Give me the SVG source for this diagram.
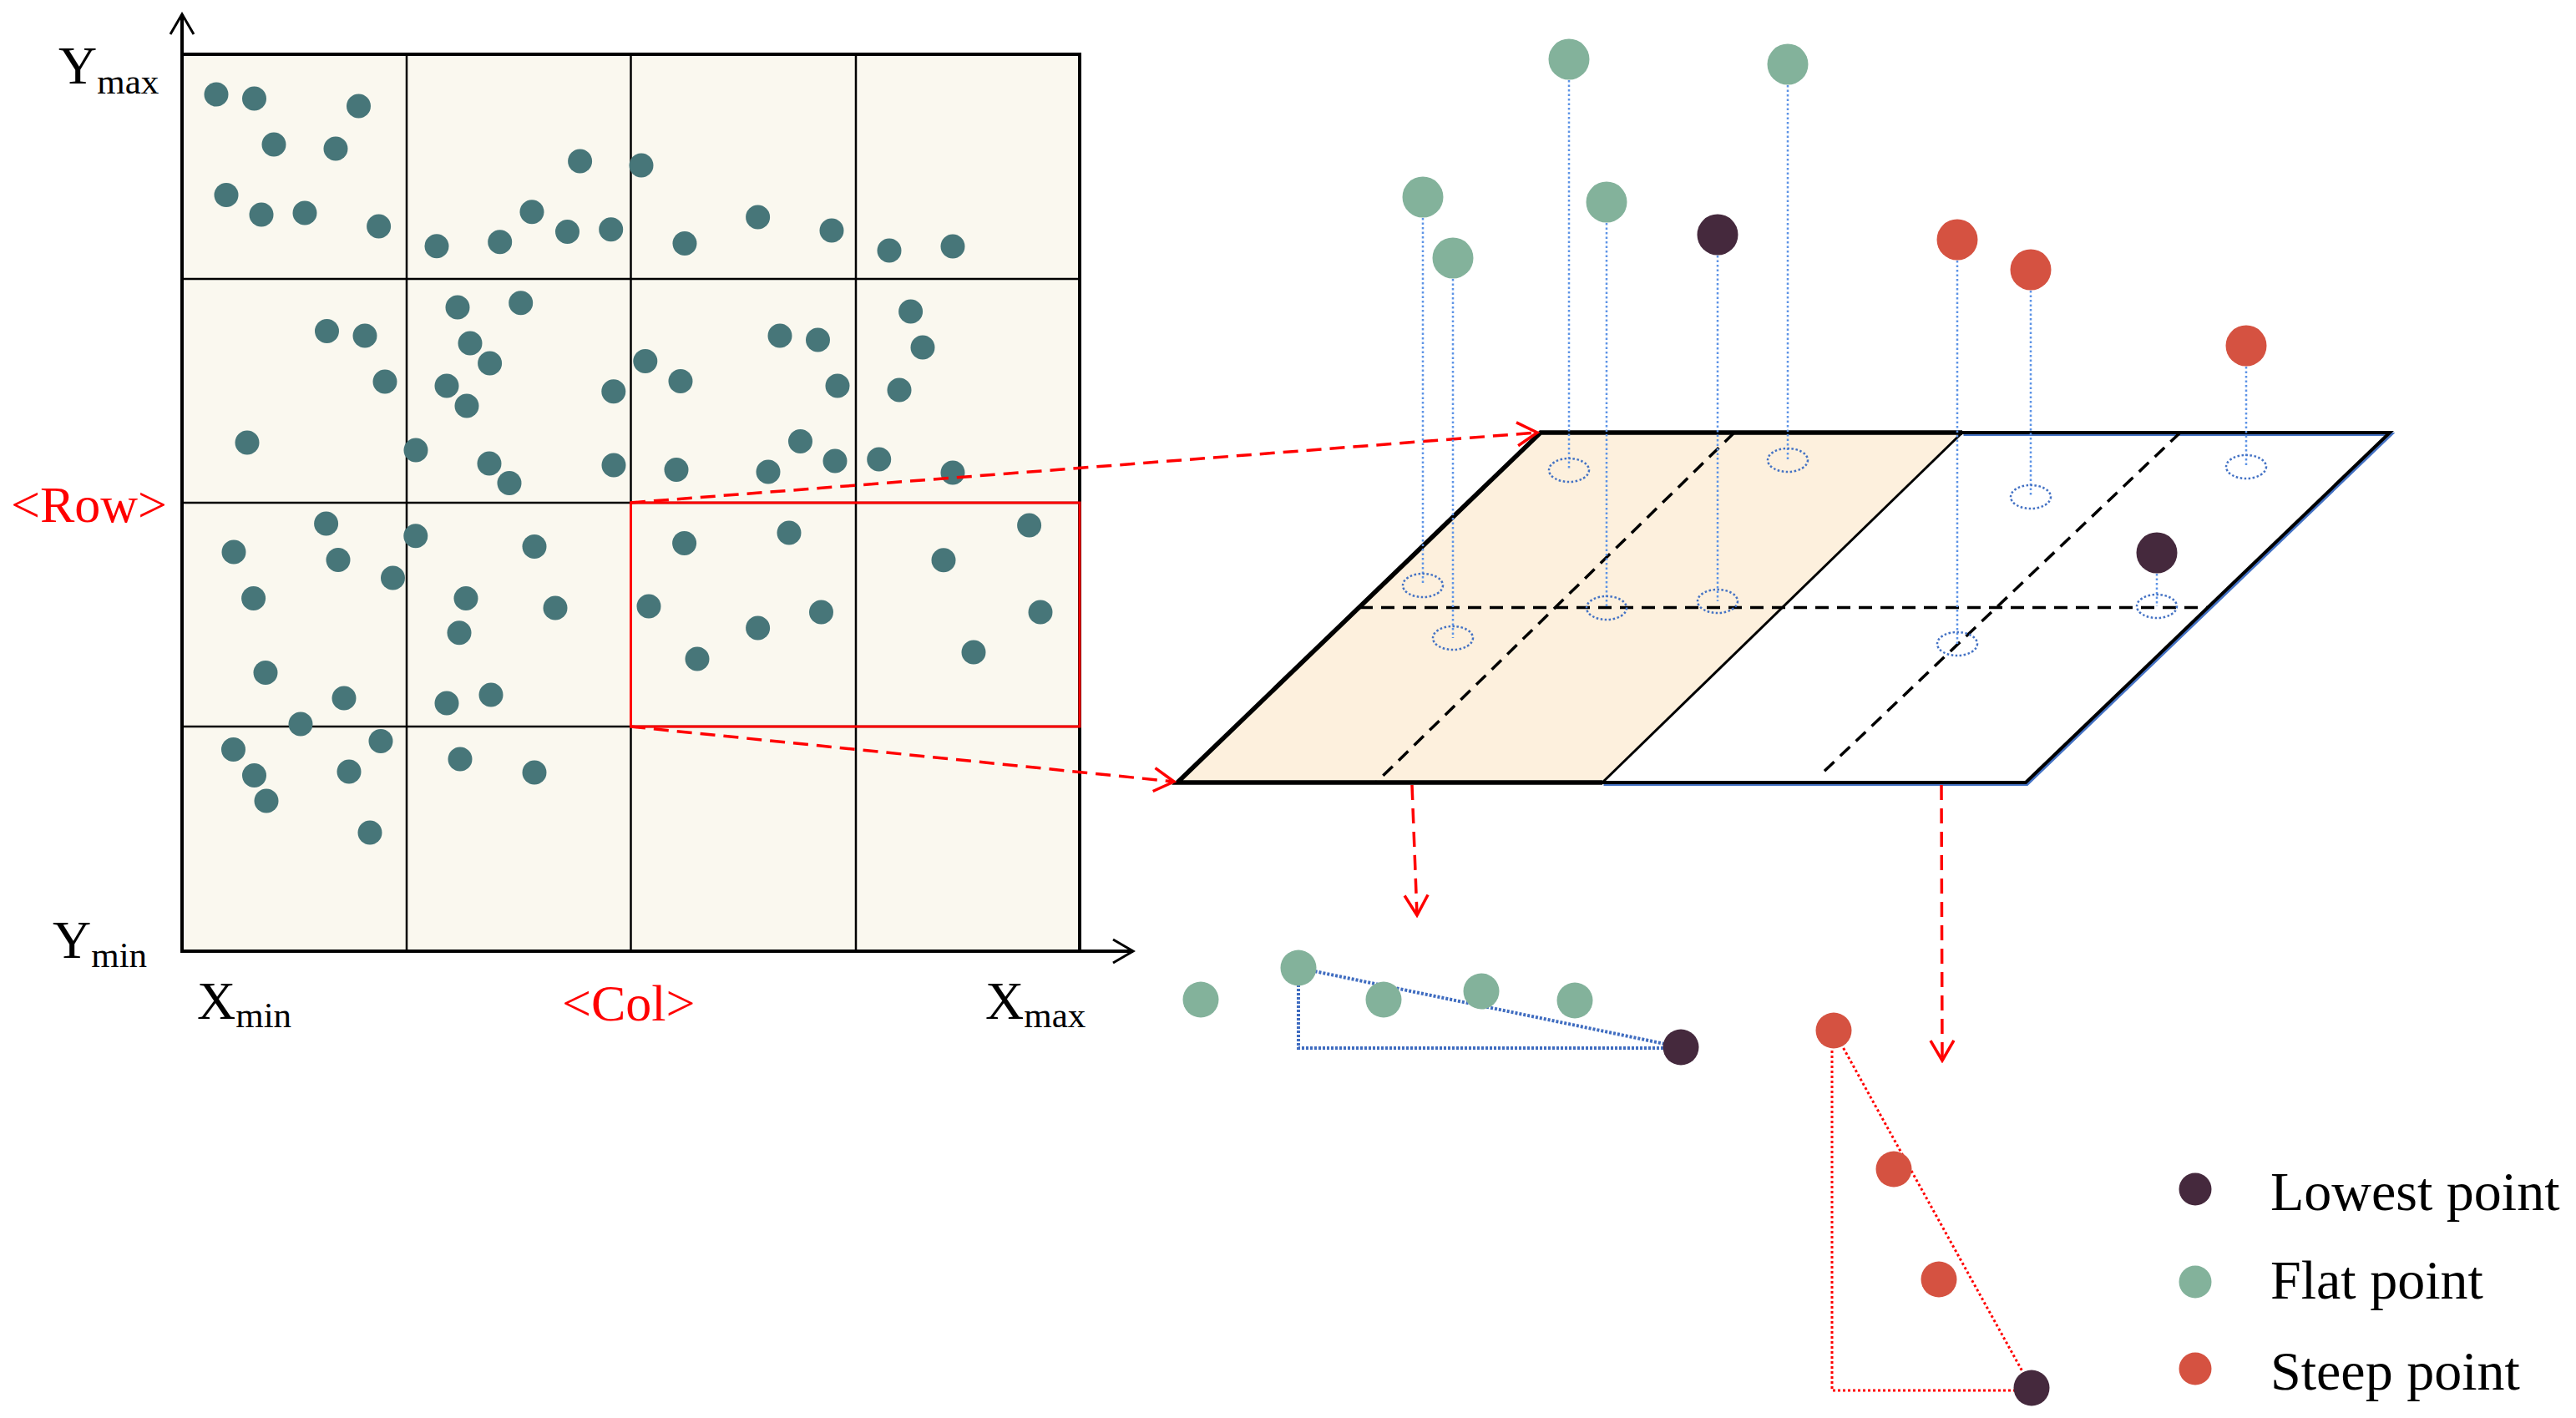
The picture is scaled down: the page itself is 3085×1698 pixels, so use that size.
<svg xmlns="http://www.w3.org/2000/svg" width="3085" height="1698" viewBox="0 0 3085 1698">
<style>
.t{fill:#477679}
.g{fill:#83B29B}
.d{fill:#45293D}
.r{fill:#D55241}
.lbl{font-family:"Liberation Serif","Times New Roman",serif;fill:#000}
.rl{fill:#FF0000}
.drop{stroke:#5D93E6;stroke-width:2.5;stroke-dasharray:2.5 3;fill:none}
.foot{stroke:#4472C4;stroke-width:2.5;stroke-dasharray:2.5 2.5;fill:none}
.rdash{stroke:#FF0000;stroke-width:3.5;stroke-dasharray:18 10;fill:none}
.kdash{stroke:#000;stroke-width:3.5;stroke-dasharray:16 10;fill:none}
.gl{stroke:#000;stroke-width:2.5}
</style>
<defs>
<marker id="ahR" viewBox="0 0 30 32" refX="27" refY="16" markerWidth="30" markerHeight="32" markerUnits="userSpaceOnUse" orient="auto"><path d="M3,2 L27,16 L3,30" fill="none" stroke="#FF0000" stroke-width="3.5"/></marker>
<marker id="ahK" viewBox="0 0 30 32" refX="27" refY="16" markerWidth="30" markerHeight="32" markerUnits="userSpaceOnUse" orient="auto"><path d="M3,2 L27,16 L3,30" fill="none" stroke="#000" stroke-width="3"/></marker>
</defs>
<rect width="3085" height="1698" fill="#FFFFFF"/>

<g id="grid">
<rect x="218" y="65" width="1075" height="1074" fill="#FAF8EF" stroke="#000" stroke-width="4"/>
<line class="gl" x1="487" y1="65" x2="487" y2="1139"/>
<line class="gl" x1="755.5" y1="65" x2="755.5" y2="1139"/>
<line class="gl" x1="1025" y1="65" x2="1025" y2="1139"/>
<line class="gl" x1="218" y1="334" x2="1293" y2="334"/>
<line class="gl" x1="218" y1="602" x2="1293" y2="602"/>
<line class="gl" x1="218" y1="870" x2="1293" y2="870"/>
<g id="grid-points">
<circle class="t" cx="259" cy="113" r="14.5"/><circle class="t" cx="304.5" cy="118" r="14.5"/><circle class="t" cx="429.5" cy="127" r="14.5"/>
<circle class="t" cx="328" cy="173" r="14.5"/><circle class="t" cx="402" cy="178" r="14.5"/><circle class="t" cx="271" cy="233.5" r="14.5"/>
<circle class="t" cx="313" cy="257" r="14.5"/><circle class="t" cx="365" cy="255" r="14.5"/><circle class="t" cx="453.6" cy="271" r="14.5"/>
<circle class="t" cx="523" cy="294.7" r="14.5"/><circle class="t" cx="598.7" cy="289.7" r="14.5"/><circle class="t" cx="637" cy="253.7" r="14.5"/>
<circle class="t" cx="679.5" cy="277.5" r="14.5"/><circle class="t" cx="694.6" cy="193" r="14.5"/><circle class="t" cx="731.7" cy="274.8" r="14.5"/>
<circle class="t" cx="768" cy="198" r="14.5"/><circle class="t" cx="820" cy="291.6" r="14.5"/><circle class="t" cx="907.6" cy="260" r="14.5"/>
<circle class="t" cx="996" cy="276" r="14.5"/><circle class="t" cx="1065" cy="300" r="14.5"/><circle class="t" cx="1141" cy="295" r="14.5"/>
<circle class="t" cx="391.5" cy="396.5" r="14.5"/><circle class="t" cx="437" cy="402" r="14.5"/><circle class="t" cx="461" cy="457" r="14.5"/>
<circle class="t" cx="296" cy="530" r="14.5"/>
<circle class="t" cx="548" cy="368" r="14.5"/><circle class="t" cx="623.7" cy="362.8" r="14.5"/><circle class="t" cx="563" cy="411" r="14.5"/>
<circle class="t" cx="586.6" cy="435" r="14.5"/><circle class="t" cx="535" cy="462" r="14.5"/><circle class="t" cx="559" cy="486" r="14.5"/>
<circle class="t" cx="498" cy="539" r="14.5"/><circle class="t" cx="586" cy="555" r="14.5"/><circle class="t" cx="610" cy="578.6" r="14.5"/>
<circle class="t" cx="772.8" cy="432.5" r="14.5"/><circle class="t" cx="815" cy="456.5" r="14.5"/><circle class="t" cx="734.8" cy="468.8" r="14.5"/>
<circle class="t" cx="934" cy="402" r="14.5"/><circle class="t" cx="979.5" cy="407" r="14.5"/><circle class="t" cx="1003" cy="462" r="14.5"/>
<circle class="t" cx="958.5" cy="528.5" r="14.5"/><circle class="t" cx="735" cy="557" r="14.5"/><circle class="t" cx="810" cy="562.6" r="14.5"/>
<circle class="t" cx="920" cy="565" r="14.5"/><circle class="t" cx="1000" cy="552" r="14.5"/>
<circle class="t" cx="1090.6" cy="373" r="14.5"/><circle class="t" cx="1105" cy="416" r="14.5"/><circle class="t" cx="1077" cy="467" r="14.5"/>
<circle class="t" cx="1052.7" cy="550" r="14.5"/><circle class="t" cx="1141" cy="566" r="14.5"/>
<circle class="t" cx="390.6" cy="627" r="14.5"/><circle class="t" cx="280" cy="661" r="14.5"/><circle class="t" cx="405" cy="670.5" r="14.5"/>
<circle class="t" cx="470.5" cy="692" r="14.5"/><circle class="t" cx="303.6" cy="716.5" r="14.5"/><circle class="t" cx="318" cy="805.6" r="14.5"/>
<circle class="t" cx="412" cy="836" r="14.5"/><circle class="t" cx="360" cy="867" r="14.5"/>
<circle class="t" cx="497.8" cy="641.8" r="14.5"/><circle class="t" cx="640" cy="654.5" r="14.5"/><circle class="t" cx="558" cy="716.5" r="14.5"/>
<circle class="t" cx="665" cy="728" r="14.5"/><circle class="t" cx="550" cy="757.8" r="14.5"/><circle class="t" cx="588" cy="832" r="14.5"/>
<circle class="t" cx="535" cy="842" r="14.5"/>
<circle class="t" cx="819.6" cy="650.4" r="14.5"/><circle class="t" cx="945" cy="638" r="14.5"/><circle class="t" cx="777" cy="726" r="14.5"/>
<circle class="t" cx="907.6" cy="752" r="14.5"/><circle class="t" cx="983.5" cy="733" r="14.5"/><circle class="t" cx="835" cy="789" r="14.5"/>
<circle class="t" cx="1232.6" cy="629" r="14.5"/><circle class="t" cx="1130" cy="670.7" r="14.5"/><circle class="t" cx="1246" cy="733" r="14.5"/>
<circle class="t" cx="1166" cy="781" r="14.5"/>
<circle class="t" cx="279.5" cy="897.5" r="14.5"/><circle class="t" cx="456" cy="887.5" r="14.5"/><circle class="t" cx="304.5" cy="928.5" r="14.5"/>
<circle class="t" cx="418" cy="924" r="14.5"/><circle class="t" cx="319" cy="959" r="14.5"/><circle class="t" cx="443" cy="997" r="14.5"/>
<circle class="t" cx="551" cy="909" r="14.5"/><circle class="t" cx="640" cy="925" r="14.5"/>
</g>
<rect id="selected-row" x="755.5" y="602" width="537.5" height="268" fill="none" stroke="#FF0000" stroke-width="3"/>
</g>

<g id="axes">
<line x1="218" y1="1141" x2="218" y2="17" stroke="#000" stroke-width="4" marker-end="url(#ahK)"/>
<line x1="216" y1="1139" x2="1357" y2="1139" stroke="#000" stroke-width="4" marker-end="url(#ahK)"/>
</g>

<g id="labels">
<text class="lbl" x="70" y="100" font-size="64">Y<tspan font-size="43" dy="12">max</tspan></text>
<text class="lbl" x="63" y="1147" font-size="64">Y<tspan font-size="43" dy="11">min</tspan></text>
<text class="lbl" x="236" y="1220" font-size="64">X<tspan font-size="43" dy="10">min</tspan></text>
<text class="lbl" x="1180" y="1220" font-size="64">X<tspan font-size="43" dy="10">max</tspan></text>
<text class="lbl rl" x="13" y="625" font-size="62">&lt;Row&gt;</text>
<text class="lbl rl" x="673" y="1222" font-size="62">&lt;Col&gt;</text>
</g>

<g id="plane">
<path d="M1845,518 L2350,518 L1919,937 L1410,937 Z" fill="#FDF0DD"/>
<path d="M2350,518 L2862,518 L2426,937 L1919,937" fill="none" stroke="#4472C4" stroke-width="4" transform="translate(1.5,2)"/>
<path d="M2350,518 L2862,518 L2426,937 L1919,937" fill="none" stroke="#000" stroke-width="4"/>
<path d="M2350,518 L1845,518 L1410,937 L1919,937" fill="none" stroke="#000" stroke-width="5.5" stroke-linejoin="miter"/>
<line x1="2350" y1="518" x2="1919" y2="937" stroke="#000" stroke-width="3"/>
<line class="kdash" x1="1628" y1="727.5" x2="2644" y2="727.5"/>
<line class="kdash" x1="2077" y1="518" x2="1648" y2="937"/>
<line class="kdash" x1="2611" y1="518" x2="2180" y2="928"/>
</g>

<g id="connectors">
<path class="rdash" d="M755,602 L1841,518" marker-end="url(#ahR)"/>
<path class="rdash" d="M755,870 L1406,936" marker-end="url(#ahR)"/>
<path class="rdash" d="M1691,940 L1697,1096" marker-end="url(#ahR)"/>
<path class="rdash" d="M2325,940 L2326,1270" marker-end="url(#ahR)"/>
<g id="drop-lines">
<line class="drop" x1="1704" y1="261" x2="1704" y2="701"/>
<line class="drop" x1="1740" y1="334" x2="1740" y2="764"/>
<line class="drop" x1="1879" y1="96" x2="1879" y2="563"/>
<line class="drop" x1="1924" y1="267" x2="1924" y2="728"/>
<line class="drop" x1="2057" y1="306" x2="2057" y2="720"/>
<line class="drop" x1="2141" y1="102" x2="2141" y2="551"/>
<line class="drop" x1="2344" y1="312" x2="2344" y2="771"/>
<line class="drop" x1="2432" y1="348" x2="2432" y2="595"/>
<line class="drop" x1="2690" y1="439" x2="2690" y2="559"/>
<line class="drop" x1="2583" y1="687" x2="2583" y2="726"/>
</g>
</g>

<g id="footprints">
<ellipse class="foot" cx="1704" cy="701" rx="24" ry="14"/>
<ellipse class="foot" cx="1740" cy="764" rx="24" ry="14"/>
<ellipse class="foot" cx="1879" cy="563" rx="24" ry="14"/>
<ellipse class="foot" cx="1924" cy="728" rx="24" ry="14"/>
<ellipse class="foot" cx="2057" cy="720" rx="24" ry="14"/>
<ellipse class="foot" cx="2141" cy="551" rx="24" ry="14"/>
<ellipse class="foot" cx="2344" cy="771" rx="24" ry="14"/>
<ellipse class="foot" cx="2432" cy="595" rx="24" ry="14"/>
<ellipse class="foot" cx="2690" cy="559" rx="24" ry="14"/>
<ellipse class="foot" cx="2583" cy="726" rx="24" ry="14"/>
</g>

<g id="points-3d">
<circle class="g" cx="1704" cy="236" r="24.5"/>
<circle class="g" cx="1740" cy="309" r="24.5"/>
<circle class="g" cx="1879" cy="71" r="24.5"/>
<circle class="g" cx="1924" cy="242" r="24.5"/>
<circle class="d" cx="2057" cy="281" r="24.5"/>
<circle class="g" cx="2141" cy="77" r="24.5"/>
<circle class="r" cx="2344" cy="287" r="24.5"/>
<circle class="r" cx="2432" cy="323" r="24.5"/>
<circle class="r" cx="2690" cy="414" r="24.5"/>
<circle class="d" cx="2583" cy="662" r="24.5"/>
</g>

<g id="flat-profile">
<path d="M1555,1159 L1555,1255 L2013,1255 M1555,1159 L2013,1254" fill="none" stroke="#3F6CC0" stroke-width="4" stroke-dasharray="3 2"/>
<circle class="g" cx="1438" cy="1197" r="21.5"/>
<circle class="g" cx="1555" cy="1159" r="21.5"/>
<circle class="g" cx="1657" cy="1197" r="21.5"/>
<circle class="g" cx="1774" cy="1187" r="21.5"/>
<circle class="g" cx="1886" cy="1198" r="21.5"/>
<circle class="d" cx="2013" cy="1254" r="21.5"/>
</g>

<g id="steep-profile">
<path d="M2194,1234 L2194,1665 L2433,1665 M2196,1234 L2433,1662" fill="none" stroke="#FF0000" stroke-width="3" stroke-dasharray="3 3"/>
<circle class="r" cx="2196" cy="1234" r="21.5"/>
<circle class="r" cx="2268" cy="1400" r="21.5"/>
<circle class="r" cx="2322" cy="1532" r="21.5"/>
<circle class="d" cx="2433" cy="1662" r="21.5"/>
</g>

<g id="legend">
<circle class="d" cx="2629" cy="1424" r="19.5"/>
<text class="lbl" x="2719" y="1449" font-size="66">Lowest point</text>
<circle class="g" cx="2629" cy="1535" r="19.5"/>
<text class="lbl" x="2719" y="1555" font-size="66">Flat point</text>
<circle class="r" cx="2629" cy="1639" r="19.5"/>
<text class="lbl" x="2719" y="1664" font-size="66">Steep point</text>
</g>
</svg>
